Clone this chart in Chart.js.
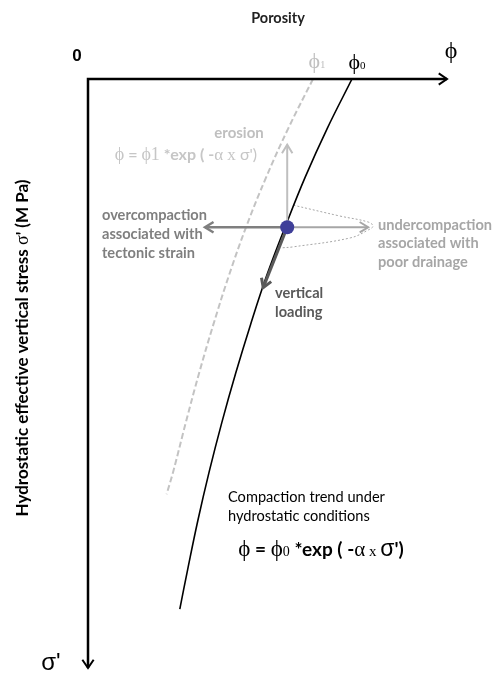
<!DOCTYPE html>
<html>
<head>
<meta charset="utf-8">
<script src="https://cdn.jsdelivr.net/npm/chart.js@4.4.1/dist/chart.umd.min.js"></script>
<style>
html,body{margin:0;padding:0;background:#fff;}
#wrap{width:493px;height:675px;position:relative;}
</style>
</head>
<body>
<div id="wrap"><canvas id="c" width="493" height="675"></canvas></div>
<script>
// Hydrostatic compaction trend (black): effective stress (MPa) vs porosity
const stressBlack   = [0, 5, 10, 15, 20, 25, 30, 35, 40, 45, 50, 54];
const porosityBlack = [0.44, 0.399, 0.362, 0.329, 0.298, 0.271, 0.246, 0.223, 0.202, 0.183, 0.166, 0.153];
// Eroded / shifted trend (grey dashed)
const stressGrey    = [0, 5, 10, 15, 20, 25, 30, 35, 40, 42.3];
const porosityGrey  = [0.375, 0.334, 0.297, 0.264, 0.235, 0.209, 0.185, 0.163, 0.142, 0.131];
// Current state point
const pointStress   = [15.1];
const pointPorosity = [0.332];
// Dotted envelope (undercompaction zone)
const loopStress    = [12.85, 13.96, 14.57, 14.98, 15.38, 16.19, 17.10, 17.2];
const loopPorosity  = [0.342, 0.420, 0.467, 0.475, 0.467, 0.437, 0.342, 0.323];
// Arrow end points [porosity, stress]
const arrowErosion  = [0.332, 6.7];
const arrowOver     = [0.195, 15.1];
const arrowUnder    = [0.467, 15.1];
const arrowLoading  = [0.292, 21.25];
// Axis ranges
const porosityRange = [0, 0.6];
const stressRange   = [0, 60];

const toPts = (xs, ys) => xs.map((x, i) => ({x: x, y: ys[i]}));

const SANS = "Lato, 'Open Sans', 'Liberation Sans', sans-serif";
const SERIF = "'Liberation Serif', 'DejaVu Serif', serif";

function arrowHead(ctx, x1, y1, x2, y2, len, ang) {
  const a = Math.atan2(y2 - y1, x2 - x1);
  ctx.beginPath();
  ctx.moveTo(x2 - len * Math.cos(a - ang), y2 - len * Math.sin(a - ang));
  ctx.lineTo(x2, y2);
  ctx.lineTo(x2 - len * Math.cos(a + ang), y2 - len * Math.sin(a + ang));
  ctx.stroke();
}
function arrow(ctx, x1, y1, x2, y2, color, w, len) {
  ctx.save();
  ctx.strokeStyle = color; ctx.lineWidth = w; ctx.lineCap = 'butt'; ctx.lineJoin = 'miter';
  ctx.beginPath(); ctx.moveTo(x1, y1); ctx.lineTo(x2, y2); ctx.stroke();
  arrowHead(ctx, x1, y1, x2, y2, len || 10, 0.55);
  ctx.restore();
}
function rich(ctx, segs, x, y, align) {
  let total = 0;
  segs.forEach(s => { ctx.font = s.f; s.w = ctx.measureText(s.t).width; total += s.w; });
  let cx = align === 'center' ? x - total / 2 : x;
  ctx.textAlign = 'left'; ctx.textBaseline = 'alphabetic';
  segs.forEach(s => { ctx.font = s.f; ctx.fillStyle = s.c; ctx.fillText(s.t, cx, y + (s.dy || 0)); cx += s.w; });
}
function lines(ctx, arr, x, y, dy, font, color) {
  ctx.font = font; ctx.fillStyle = color; ctx.textAlign = 'left'; ctx.textBaseline = 'middle';
  arr.forEach((t, i) => ctx.fillText(t, x, y + i * dy));
}

const decor = {
  id: 'decor',
  afterDatasetDraw(chart, args) {
    if (args.index !== 1) return; // after black curve, before the point
    const ctx = chart.ctx, xs = chart.scales.x, ys = chart.scales.y;
    const px = v => xs.getPixelForValue(v), py = v => ys.getPixelForValue(v);
    const x0 = px(pointPorosity[0]), y0 = py(pointStress[0]);
    arrow(ctx, x0, y0, px(arrowErosion[0]), py(arrowErosion[1]), '#bfbfbf', 2, 10);
    arrow(ctx, x0, y0, px(arrowUnder[0]), py(arrowUnder[1]), '#a6a6a6', 2, 10);
    arrow(ctx, x0, y0, px(arrowOver[0]), py(arrowOver[1]), '#7f7f7f', 2.5, 10);
    arrow(ctx, x0, y0, px(arrowLoading[0]), py(arrowLoading[1]), '#595959', 3, 10);
  },
  afterDraw(chart) {
    const ctx = chart.ctx, xs = chart.scales.x, ys = chart.scales.y;
    const ox = xs.getPixelForValue(porosityRange[0]), oy = ys.getPixelForValue(stressRange[0]);
    const xEnd = xs.getPixelForValue(porosityRange[1]) - 1, yEnd = ys.getPixelForValue(stressRange[1]);
    ctx.save();
    ctx.strokeStyle = '#000'; ctx.lineWidth = 2.5;
    ctx.beginPath(); ctx.moveTo(xEnd, oy); ctx.lineTo(ox, oy); ctx.lineTo(ox, yEnd); ctx.stroke();
    ctx.lineWidth = 2;
    arrowHead(ctx, ox, oy, xEnd, oy, 10, 0.6);
    arrowHead(ctx, ox, oy, ox, yEnd, 10, 0.6);

    // titles
    ctx.fillStyle = '#222'; ctx.font = 'bold 14.5px ' + SANS; ctx.textAlign = 'center'; ctx.textBaseline = 'middle';
    ctx.fillText('Porosity', 278, 18);
    ctx.fillStyle = '#000'; ctx.font = 'bold 17px Arial, "Liberation Sans", sans-serif';
    ctx.fillText('0', 77, 56);

    // phi labels on the axis
    rich(ctx, [{t: '\u03D5', f: '22px ' + SERIF, c: '#c0c0c0'}, {t: '1', f: '11px ' + SERIF, c: '#c0c0c0'}], 317, 68, 'center');
    rich(ctx, [{t: '\u03D5', f: '22px ' + SERIF, c: '#000'}, {t: '0', f: '11px ' + SERIF, c: '#000'}], 357, 69, 'center');
    rich(ctx, [{t: '\u03D5', f: '24px ' + SERIF, c: '#000'}], 451, 58, 'center');

    // sigma' at bottom
    ctx.fillStyle = '#000'; ctx.font = '24px "Liberation Sans", Arial, sans-serif'; ctx.textAlign = 'center'; ctx.textBaseline = 'alphabetic';
    ctx.fillText("\u03C3'", 51, 670);

    // y-axis title
    ctx.save();
    ctx.translate(28, 348); ctx.rotate(-Math.PI / 2);
    rich(ctx, [
      {t: 'Hydrostatic effective vertical stress ', f: 'bold 17px ' + SANS, c: '#000'},
      {t: '\u03C3', f: '18px ' + SERIF, c: '#000'},
      {t: "' (M Pa)", f: 'bold 17px ' + SANS, c: '#000'}
    ], 0, 0, 'center');
    ctx.restore();

    // grey annotations
    ctx.fillStyle = '#bfbfbf'; ctx.font = 'bold 15px ' + SANS; ctx.textAlign = 'center'; ctx.textBaseline = 'middle';
    ctx.fillText('erosion', 239, 133);
    const gc = '#c6c6c6';
    rich(ctx, [
      {t: '\u03D5', f: '18px ' + SERIF, c: gc},
      {t: ' = ', f: 'bold 16px ' + SANS, c: gc},
      {t: '\u03D51', f: '18px ' + SERIF, c: gc},
      {t: ' *exp ( -', f: 'bold 16px ' + SANS, c: gc},
      {t: '\u03B1 x ', f: '17px ' + SERIF, c: gc},
      {t: "\u03C3')", f: '16px ' + SANS, c: gc}
    ], 186, 160, 'center');

    lines(ctx, ['overcompaction', 'associated with', 'tectonic strain'], 102, 215, 19, 'bold 14.6px ' + SANS, '#7f7f7f');
    lines(ctx, ['undercompaction', 'associated with', 'poor drainage'], 378, 225, 18.5, 'bold 14.6px ' + SANS, '#a6a6a6');
    lines(ctx, ['vertical', 'loading'], 275, 293, 19, 'bold 14.6px ' + SANS, '#595959');

    lines(ctx, ['Compaction trend under', 'hydrostatic conditions'], 228, 497, 19.5, '14.6px ' + SANS, '#000');
    rich(ctx, [
      {t: '\u03D5', f: '23px ' + SERIF, c: '#000'},
      {t: ' = ', f: 'bold 19px ' + SANS, c: '#000'},
      {t: '\u03D5', f: '23px ' + SERIF, c: '#000'},
      {t: '0', f: '14px ' + SERIF, c: '#000'},
      {t: ' *exp ( -', f: 'bold 19px ' + SANS, c: '#000'},
      {t: '\u03B1', f: '21px ' + SERIF, c: '#000'},
      {t: ' x ', f: '15px ' + SERIF, c: '#000'},
      {t: '\u03C3', f: '23px "Liberation Sans", Arial, sans-serif', c: '#000'},
      {t: "')", f: 'bold 19px ' + SANS, c: '#000'}
    ], 321, 556, 'center');
    ctx.restore();
  }
};

new Chart(document.getElementById('c'), {
  type: 'scatter',
  data: {
    datasets: [
      {label: 'point', data: toPts(pointPorosity, pointStress), pointRadius: 7, pointHoverRadius: 7,
       backgroundColor: '#3f3f99', borderColor: '#3f3f99', borderWidth: 0},
      {label: 'hydrostatic', data: toPts(porosityBlack, stressBlack), showLine: true, borderColor: '#000',
       borderWidth: 1.6, pointRadius: 0, tension: 0.4, fill: false},
      {label: 'shifted', data: toPts(porosityGrey, stressGrey), showLine: true, borderColor: '#c3c3c3',
       borderWidth: 2, borderDash: [6, 3], pointRadius: 0, tension: 0.4, fill: false},
      {label: 'loop', data: toPts(loopPorosity, loopStress), showLine: true, borderColor: '#a6a6a6',
       borderWidth: 1, borderDash: [2, 2], pointRadius: 0, tension: 0.4, fill: false}
    ]
  },
  options: {
    responsive: false,
    animation: false,
    layout: {padding: {left: 88, top: 79, right: 45, bottom: 3}},
    plugins: {legend: {display: false}, tooltip: {enabled: false}, title: {display: false}},
    scales: {
      x: {type: 'linear', min: porosityRange[0], max: porosityRange[1], display: false},
      y: {type: 'linear', min: stressRange[0], max: stressRange[1], reverse: true, display: false}
    }
  },
  plugins: [decor]
});
</script>
</body>
</html>
